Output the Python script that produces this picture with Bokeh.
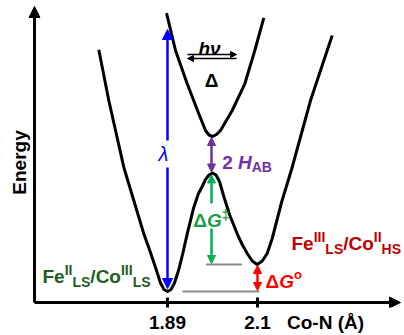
import math
from bokeh.plotting import figure
from bokeh.models import Range1d, FixedTicker, Arrow, NormalHead
from bokeh.core.properties import value
from bokeh.embed import file_html
from bokeh.resources import INLINE

# ---------------- data ----------------
tick_values = [1.89, 2.1]
tick_labels = ["1.89", "2.1"]
axis_title = "Co-N (Å)"
axis_title_pos = 2.2587
y_title = "Energy"

# lower adiabatic surface (Co-N distance in Å, energy in arbitrary units)
lower_x = [1.7297, 1.7530, 1.7880, 1.8347, 1.8503, 1.8620, 1.8737, 1.8818, 1.8900,
           1.8982, 1.9063, 1.9164, 1.9262, 1.9360, 1.9514, 1.9623, 1.9710, 1.9787,
           1.9868, 1.9950, 2.0032, 2.0113, 2.0214, 2.0347, 2.0526, 2.0643, 2.0760,
           2.0877, 2.0993, 2.1110, 2.1226, 2.1343, 2.1560, 2.1810, 2.2237, 2.2743]
lower_e = [252.7, 202.0, 135.3, 68.7, 50.0, 35.0, 19.5, 13.0, 11.0,
           13.0, 19.5, 33.0, 50.0, 68.7, 95.3, 109.0, 116.0, 123.0,
           127.5, 129.5, 127.5, 121.0, 106.0, 88.0, 68.7, 58.0, 49.0,
           41.5, 38.0, 41.5, 49.0, 64.0, 100.0, 135.3, 202.0, 267.0]
# upper adiabatic surface
upper_x = [1.8877, 1.9087, 1.9360, 1.9630, 1.9787, 1.9868, 1.9950, 2.0043, 2.0137,
           2.0410, 2.0704, 2.0937, 2.1147]
upper_e = [289.3, 252.0, 218.7, 188.7, 172.0, 167.5, 166.0, 168.0, 172.0,
           192.0, 218.7, 252.0, 284.7]

x_ls = 1.89          # Fe(II)LS/Co(III)LS minimum
x_hs = 2.10          # Fe(III)LS/Co(II)HS minimum
x_ts = 1.9927        # crossing region
e_ls = 11.0
e_hs = 38.0
e_barrier = 129.5
e_upper = 166.0
e_lambda_top = 273.0

# ---------------- figure ----------------
FONT = "Liberation Sans"
X0 = 1.57967
p = figure(width=404, height=335, x_range=Range1d(1.50033, 2.443), y_range=Range1d(-5, 302),
           output_backend="svg", toolbar_location=None, y_axis_location=None,
           min_border_left=0, min_border_right=0, min_border_top=0, min_border_bottom=28)
p.grid.visible = False
p.outline_line_color = None

xa = p.xaxis[0]
xa.ticker = FixedTicker(ticks=tick_values + [axis_title_pos])
ov = {t: l for t, l in zip(tick_values, tick_labels)}
ov[axis_title_pos] = axis_title
xa.major_label_overrides = ov
xa.axis_line_color = None
xa.major_tick_line_color = None
xa.minor_tick_line_color = None
xa.major_tick_in = 0
xa.major_tick_out = 0
xa.major_label_text_font = FONT
xa.major_label_text_font_size = "19px"
xa.major_label_text_font_style = "bold"
xa.major_label_text_color = "black"
xa.major_label_standoff = 4

# axes arrows
p.add_layout(Arrow(end=NormalHead(size=11, fill_color="black", line_color="black"),
                   x_start=X0, y_start=0, x_end=X0, y_end=296, line_width=3, line_color="black"))
p.add_layout(Arrow(end=NormalHead(size=11, fill_color="black", line_color="black"),
                   x_start=X0, y_start=0, x_end=2.4337, y_end=0, line_width=3, line_color="black"))
# tick marks
p.segment(x0=tick_values, y0=[-8] * 2, x1=tick_values, y1=[5] * 2, line_width=3, line_color="black")

p.text(x=[1.5447], y=[140], text=[y_title], angle=math.pi / 2, text_font=value(FONT),
       text_font_size="19px", text_font_style="bold", text_align="center", text_baseline="middle",
       text_color="black")

# grey reference levels
p.segment(x0=[1.9798, 1.9250], y0=[e_hs, e_ls], x1=[2.0638, 2.1047], y1=[e_hs, e_ls],
          line_width=2, line_color="#8C8C8C")

# curves
p.line(lower_x, lower_e, line_width=3, line_color="black", line_join="round")
p.line(upper_x, upper_e, line_width=3, line_color="black", line_join="round")

def arrow(x0, y0, x1, y1, color, size=9, width=2.5, both=False):
    h = dict(size=size, fill_color=color, line_color=color, line_width=1)
    p.add_layout(Arrow(end=NormalHead(**h), start=NormalHead(**h) if both else None,
                       x_start=x0, y_start=y0, x_end=x1, y_end=y1,
                       line_width=width, line_color=color))

BLUE, PURPLE, GREEN, RED = "#0000FF", "#7030A0", "#00B050", "#FF0000"
# lambda
arrow(x_ls, 135, x_ls, e_ls + 3, BLUE, size=10)
arrow(x_ls, 162, x_ls, e_lambda_top, BLUE, size=10)
# 2 H_AB
arrow(x_ts, e_barrier + 1, x_ts, e_upper - 1, PURPLE, size=8, both=True)
# dG barrier
arrow(x_ts, 99, x_ts, e_barrier - 2, GREEN, size=8)
arrow(x_ts, 74, x_ts, e_hs + 1, GREEN, size=8)
# dG0
arrow(x_hs, e_ls + 1, x_hs, e_hs - 1, RED, size=8, both=True)
# h nu / Delta equilibrium arrows
arrow(1.9367, 248, 2.051, 248, "black", size=6, width=1.5)
arrow(2.051, 244, 1.9367, 244, "black", size=6, width=1.5)

W = {"F": 611, "e": 556, "I": 278, "L": 611, "S": 667, "/": 278, "C": 722, "o": 611,
     "H": 722, "A": 722, "B": 722, "G": 778, " ": 278, "2": 556, "Δ": 722, "‡": 556}

def tw(s, size):
    return sum(W.get(c, 600) for c in s) * size / 1000.0

def rich(x, y, parts, color, center=False):
    total = sum(tw(t, s) for t, s, _, _ in parts)
    off = -total / 2 if center else 0.0
    for t, s, style, dy in parts:
        p.text(x=[x], y=[y], text=[t], x_offset=off, y_offset=dy, text_font=value(FONT),
               text_font_size=f"{s}px", text_font_style=style, text_color=color,
               text_align="left", text_baseline="alphabetic")
        off += tw(t, s)

DKGREEN, DKRED = "#215E21", "#C00000"
rich(1.59833, 26, [("Fe", 19, "bold", 0), ("II", 14, "bold", -7), ("LS", 14, "bold", 5),
                   ("/Co", 19, "bold", 0), ("III", 14, "bold", -7), ("LS", 14, "bold", 5)], DKGREEN)
rich(2.1793, 59, [("Fe", 19, "bold", 0), ("III", 14, "bold", -7), ("LS", 14, "bold", 5),
                  ("/Co", 19, "bold", 0), ("II", 14, "bold", -7), ("HS", 14, "bold", 5)], DKRED)
rich(2.0176, 140, [("2 ", 19, "bold", 0), ("H", 19, "bold italic", 0), ("AB", 14, "bold", 4)], PURPLE)
rich(x_ts, 82, [("Δ", 19, "bold", 0), ("G", 19, "bold italic", 0), ("‡", 14, "bold", -6)],
     "#17A043", center=True)
rich(2.1187, 21, [("Δ", 19, "bold", 0), ("G", 19, "bold italic", 0), ("o", 13, "bold", -7)], RED)

p.text(x=[1.8807], y=[149], text=["λ"], text_font=value(FONT), text_font_size="20px",
       text_font_style="italic", text_color=BLUE, text_align="center", text_baseline="middle")
p.text(x=[1.988], y=[254], text=["hν"], text_font=value(FONT), text_font_size="19px",
       text_font_style="bold italic", text_color="black", text_align="center", text_baseline="alphabetic")
p.text(x=[1.9927], y=[222], text=["Δ"], text_font=value(FONT), text_font_size="19px",
       text_font_style="bold", text_color="black", text_align="center", text_baseline="alphabetic")

open("out.html", "w").write(file_html(p, INLINE))
